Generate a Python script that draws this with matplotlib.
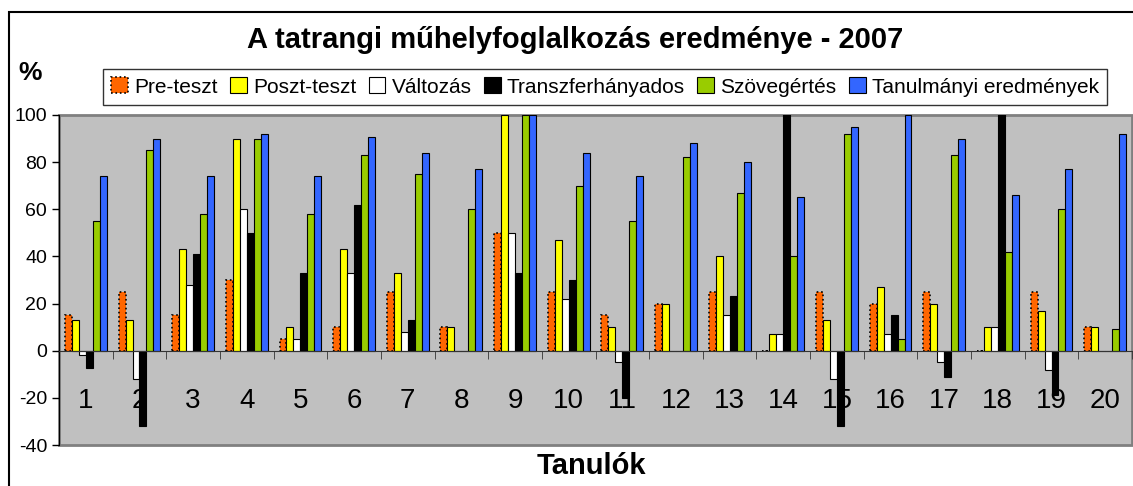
import numpy as np
import matplotlib.pyplot as plt
from matplotlib.patches import Rectangle

plt.rcParams['font.family'] = ['Liberation Sans', 'DejaVu Sans']
plt.rcParams['axes.unicode_minus'] = False

tanulok = [str(i) for i in range(1, 21)]
pre = [15, 25, 15, 30, 5, 10, 25, 10, 50, 25, 15, 20, 25, 0, 25, 20, 25, 0, 25, 10]
poszt = [13, 13, 43, 90, 10, 43, 33, 10, 100, 47, 10, 20, 40, 7, 13, 27, 20, 10, 17, 10]
valtozas = [-2, -12, 28, 60, 5, 33, 8, 0, 50, 22, -5, 0, 15, 7, -12, 7, -5, 10, -8, 0]
transzfer = [-7.5, -32, 41, 50, 33, 62, 13, 0, 33, 30, -20, 0, 23, 120, -32, 15, -11, 120, -19, 0]
szoveg = [55, 85, 58, 90, 58, 83, 75, 60, 100, 70, 55, 82, 67, 40, 92, 5, 83, 42, 60, 9]
tanulmanyi = [74, 90, 74, 92, 74, 90.5, 84, 77, 100, 84, 74, 88, 80, 65, 95, 100, 90, 66, 77, 92]

series = [
    ("Pre-teszt", pre, "#FF6600", ":"),
    ("Poszt-teszt", poszt, "#FFFF00", "-"),
    ("Változás", valtozas, "#FFFFFF", "-"),
    ("Transzferhányados", transzfer, "#000000", "-"),
    ("Szövegértés", szoveg, "#99CC00", "-"),
    ("Tanulmányi eredmények", tanulmanyi, "#3366FF", "-"),
]

W, H = 1133, 486
fig = plt.figure(figsize=(W / 100, H / 100), dpi=100)
ax = fig.add_axes([59 / W, 1 - 445 / H, (1132 - 59) / W, (445 - 115) / H])
ax.patch.set_facecolor("#C0C0C0")
ax.patch.set_edgecolor("#808080")
ax.patch.set_linewidth(2)

x = np.arange(1, 21)
w = 0.13
for i, (name, vals, col, ls) in enumerate(series):
    ax.bar(x + (i - 2.5) * w, vals, width=w, color=col, edgecolor="black",
           linewidth=1.2 if ls == ":" else 0.8, linestyle=ls, label=name)

ax.set_xlim(0.5, 20.5)
ax.set_ylim(-40, 100)
ax.set_yticks(range(-40, 101, 20))
ax.tick_params(axis="y", labelsize=14, length=5, direction="out", width=1)

for s in ["top", "right"]:
    ax.spines[s].set_visible(False)
ax.spines["left"].set_color("black")
ax.spines["bottom"].set_position(("data", 0))
ax.spines["bottom"].set_color("#333333")

ax.set_xticks(x)
ax.set_xticklabels(tanulok, fontsize=20)
ax.tick_params(axis="x", which="major", length=0, pad=27)
ax.set_xticks(np.arange(0.5, 21, 1), minor=True)
ax.tick_params(axis="x", which="minor", length=6, direction="out", color="#333333")

fig.text(575 / W, 1 - 40 / H, "A tatrangi műhelyfoglalkozás eredménye - 2007",
         fontsize=21, fontweight="bold", ha="center", va="center")
fig.text(30 / W, 1 - 73 / H, "%", fontsize=19, fontweight="bold", ha="center", va="center")
fig.text(591 / W, 1 - 466 / H, "Tanulók", fontsize=21, fontweight="bold", ha="center", va="center")

leg = fig.legend(loc="center", bbox_to_anchor=(605 / W, 1 - 87 / H), ncol=6, fontsize=15,
                 frameon=True, fancybox=False, edgecolor="black", handlelength=0.8,
                 handleheight=0.8, handletextpad=0.3, columnspacing=0.6,
                 borderpad=0.4, borderaxespad=0)
leg.get_frame().set_linewidth(1)

fig.patches.append(Rectangle((9 / W, -0.1), 1.2, 1 - 12 / H + 0.1, transform=fig.transFigure,
                             fill=False, edgecolor="black", linewidth=1.5))

fig.savefig("out.png", dpi=100)
